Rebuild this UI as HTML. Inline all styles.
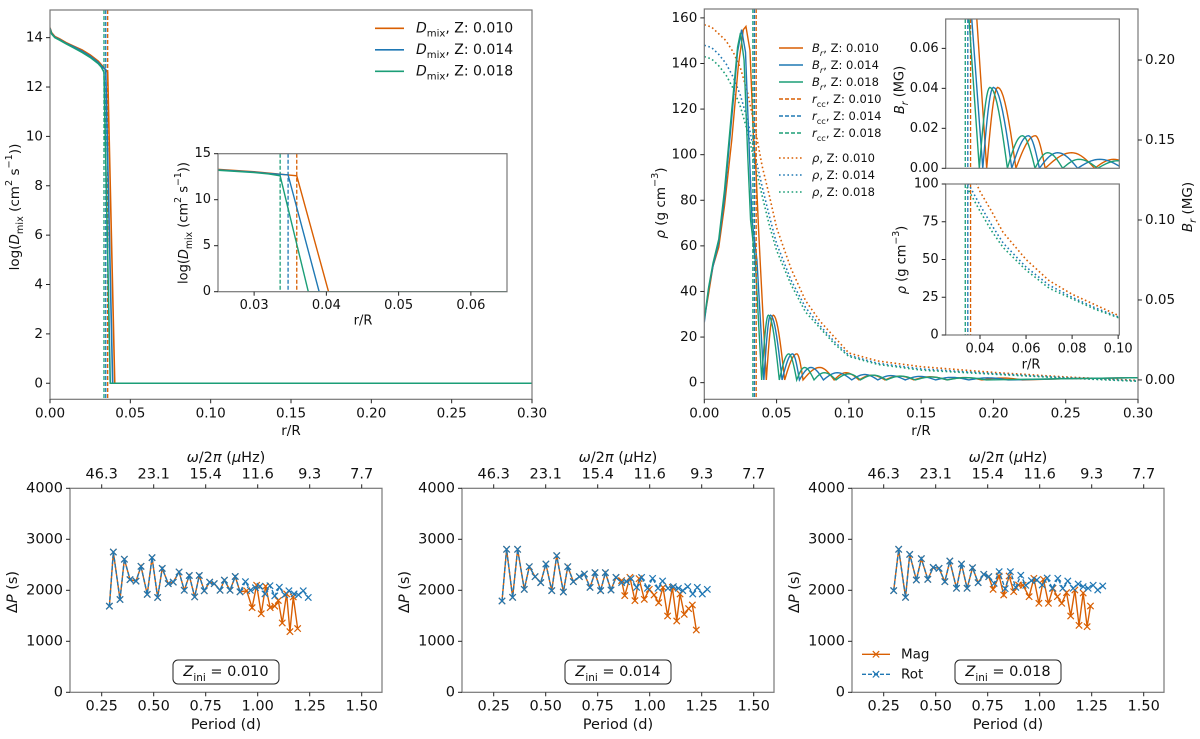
<!DOCTYPE html>
<html><head><meta charset="utf-8"><style>
html,body{margin:0;padding:0;background:#fff;}
svg{display:block;font-family:"DejaVu Sans","Liberation Sans",sans-serif;}
</style></head><body>
<svg id="fig" width="1200" height="739" viewBox="0 0 1200 739" xmlns="http://www.w3.org/2000/svg"></svg>
<script>
// ---------- DATA ----------
const zLabels = ['0.010','0.014','0.018'];
const colors = ['#d95f02','#1f78b4','#1b9e77'];
const rccValues = [0.0359, 0.0347, 0.0336];
// Dmix profiles
const dmixR_010 = [0,0.001,0.003,0.006,0.01,0.015,0.02,0.025,0.03,0.032,0.0359,0.0403,0.3];
const dmixV_010 = [14.4,14.2,14.05,13.95,13.8,13.65,13.5,13.3,13.05,12.9,12.6,0,0];
const dmixR_014 = [0,0.001,0.003,0.006,0.01,0.015,0.02,0.025,0.03,0.032,0.0347,0.039,0.3];
const dmixV_014 = [14.38,14.17,14.02,13.92,13.77,13.62,13.45,13.25,13.0,12.85,12.7,0,0];
const dmixR_018 = [0,0.001,0.003,0.006,0.01,0.015,0.02,0.025,0.03,0.032,0.0336,0.0375,0.3];
const dmixV_018 = [14.35,14.15,14.0,13.9,13.75,13.58,13.4,13.2,12.95,12.8,12.6,0,0];
// Br rise (MG)
const brRiseR_010 = [0,0.003,0.006,0.01,0.014,0.019,0.0235,0.027,0.0288,0.0316,0.0339,0.0358,0.0375,0.0386,0.0429];
const brRiseB_010 = [0.038,0.054,0.071,0.083,0.109,0.150,0.196,0.219,0.221,0.206,0.154,0.13,0.095,0.075,0];
const brRiseR_014 = [0,0.003,0.006,0.01,0.014,0.019,0.023,0.0258,0.0285,0.031,0.033,0.0364,0.0412];
const brRiseB_014 = [0.036,0.057,0.071,0.086,0.114,0.164,0.205,0.219,0.205,0.146,0.10,0.075,0];
const brRiseR_018 = [0,0.003,0.006,0.01,0.014,0.019,0.023,0.025,0.0275,0.030,0.032,0.0352,0.0397];
const brRiseB_018 = [0.038,0.058,0.073,0.088,0.119,0.169,0.208,0.217,0.20,0.141,0.10,0.075,0];
// Br oscillation bumps
const bumpZeros_010 = [0.0429,0.0556,0.0683,0.0898,0.107,0.125,0.145,0.168,0.192,0.22];
const bumpPeakR_010 = [0.0477,0.0640,0.0798,0.098,0.116,0.135,0.156,0.18,0.206];
const bumpPeakB_010 = [0.0405,0.0163,0.0078,0.0045,0.003,0.0024,0.002,0.0015,0.0012];
const bumpZeros_014 = [0.0412,0.0538,0.0658,0.0824,0.102,0.120,0.139,0.16,0.183,0.21];
const bumpPeakR_014 = [0.0458,0.0610,0.0737,0.092,0.111,0.129,0.149,0.171,0.196];
const bumpPeakB_014 = [0.0405,0.0163,0.0078,0.0045,0.0034,0.0027,0.0022,0.0016,0.0013];
const bumpZeros_018 = [0.0397,0.0519,0.0639,0.0759,0.0911,0.108,0.126,0.146,0.168,0.195];
const bumpPeakR_018 = [0.0443,0.0584,0.0694,0.0830,0.100,0.117,0.136,0.157,0.181];
const bumpPeakB_018 = [0.0405,0.0163,0.0078,0.0045,0.0038,0.003,0.0024,0.0018,0.0014];
const brTailR = [0.25, 0.3];
const brTailB = [0.0008, 0.0014];
// density
const rhoR = [0,0.005,0.01,0.015,0.02,0.025,0.03,0.035,0.04,0.045,0.05,0.06,0.07,0.08,0.09,0.1,0.12,0.15,0.2,0.25,0.3];
const rho_010 = [157,156,153,150,145,138,127,112,95,82,68,50,36,27,20,13,9.5,7,4.5,2.5,1];
const rho_014 = [148,147,144,140,134,126,115,100,86,73,61,45,33,25,18,12,8.5,6,4,2.2,0.8];
const rho_018 = [143,142,139,135,129,121,110,96,82,69,58,43,31,24,17,11.5,8,5.5,3.7,2,0.6];
// period spacings
const rotP_010 = [0.287,0.306,0.338,0.359,0.386,0.415,0.439,0.469,0.492,0.519,0.541,0.570,0.594,0.622,0.647,0.671,0.697,0.719,0.743,0.769,0.791,0.819,0.840,0.867,0.892,0.915,0.941,0.965,0.989,1.011,1.035,1.059,1.082,1.104,1.130,1.150,1.175,1.196,1.219,1.243];
const rotDP_010 = [1690,2750,1820,2610,2210,2180,2470,1920,2640,1860,2430,2130,2160,2360,2000,2290,1870,2290,1990,2160,2130,2000,2200,2000,2270,1970,2170,2000,2050,2080,1930,2090,1890,2060,1910,1990,1930,1910,1990,1860];
const magP_010 = [0.287,0.306,0.338,0.359,0.386,0.415,0.439,0.469,0.492,0.519,0.541,0.570,0.594,0.622,0.647,0.671,0.697,0.719,0.743,0.769,0.791,0.819,0.840,0.867,0.892,0.915,0.947,0.973,0.995,1.017,1.038,1.060,1.082,1.099,1.118,1.139,1.155,1.171,1.192];
const magDP_010 = [1690,2750,1820,2610,2210,2180,2470,1920,2640,1860,2430,2130,2160,2360,2000,2290,1870,2290,1990,2160,2130,2000,2200,2000,2270,1970,1990,1660,2100,1540,2080,1660,1690,1800,1360,1930,1190,1870,1250];
const rotP_014 = [0.290,0.312,0.341,0.365,0.397,0.421,0.449,0.476,0.501,0.529,0.553,0.585,0.606,0.633,0.662,0.686,0.713,0.737,0.764,0.787,0.814,0.838,0.865,0.889,0.910,0.937,0.961,0.989,1.014,1.040,1.062,1.088,1.114,1.138,1.159,1.183,1.207,1.229,1.253,1.277];
const rotDP_014 = [1790,2804,1862,2804,2019,2463,2267,2150,2516,1993,2679,1967,2463,2169,2267,2320,2058,2346,1993,2346,2006,2254,2150,2169,2228,2058,2254,2039,2235,2039,2182,2039,2071,2039,1993,2071,1927,2058,1927,2019];
const magP_014 = [0.290,0.312,0.341,0.365,0.397,0.421,0.449,0.476,0.501,0.529,0.553,0.585,0.606,0.633,0.662,0.686,0.713,0.737,0.764,0.787,0.814,0.838,0.865,0.880,0.905,0.929,0.949,0.974,0.998,1.021,1.043,1.064,1.086,1.109,1.130,1.146,1.166,1.187,1.205,1.224];
const magDP_014 = [1790,2804,1862,2804,2019,2463,2267,2150,2516,1993,2679,1967,2463,2169,2267,2320,2058,2346,1993,2346,2006,2254,2189,1895,2254,1797,2228,1823,2019,1908,1757,2058,1496,2058,1398,1927,1529,1640,1712,1222];
const rotP_018 = [0.298,0.322,0.355,0.375,0.407,0.431,0.462,0.488,0.516,0.544,0.568,0.600,0.624,0.651,0.677,0.704,0.731,0.755,0.781,0.805,0.834,0.859,0.885,0.909,0.933,0.960,0.986,1.012,1.036,1.061,1.087,1.111,1.135,1.161,1.185,1.209,1.233,1.257,1.279,1.303];
const rotDP_018 = [1993,2804,1862,2705,2202,2620,2215,2450,2430,2169,2574,2039,2516,2039,2443,2150,2313,2267,2137,2365,2032,2365,2058,2294,2098,2189,2202,2104,2241,2039,2235,2039,2182,2039,2124,2071,2039,2098,2006,2084];
const magP_018 = [0.298,0.322,0.355,0.375,0.407,0.431,0.462,0.488,0.516,0.544,0.568,0.600,0.624,0.651,0.677,0.704,0.731,0.755,0.776,0.805,0.827,0.853,0.875,0.898,0.920,0.949,0.972,0.996,1.018,1.042,1.064,1.085,1.106,1.129,1.149,1.169,1.189,1.209,1.228,1.244];
const magDP_018 = [1993,2804,1862,2705,2202,2620,2215,2450,2430,2169,2574,2039,2516,2039,2443,2150,2313,2267,2019,2280,1908,2280,1973,2104,2098,1875,2235,1745,2215,1745,2039,1875,1745,1954,1496,2006,1313,1947,1287,1692];
const periodTicks = [0.25,0.5,0.75,1.0,1.25,1.5];
const periodTickLabels = ['0.25','0.50','0.75','1.00','1.25','1.50'];
const freqTickLabels = ['46.3','23.1','15.4','11.6','9.3','7.7'];
const dpTicks = [0,1000,2000,3000,4000];
const rTicks = [0,0.05,0.1,0.15,0.2,0.25,0.3];
const rTickLabels = ['0.00','0.05','0.10','0.15','0.20','0.25','0.30'];
const dmixTicks = [0,2,4,6,8,10,12,14];
const insetATicks = [0.03,0.04,0.05,0.06];
const insetAYTicks = [0,5,10,15];
const rhoTicks = [0,20,40,60,80,100,120,140,160];
const brTicks = [0,0.05,0.1,0.15,0.2];
const brTickLabels = ['0.00','0.05','0.10','0.15','0.20'];
const insetBTicks = [0.04,0.06,0.08,0.1];
const insetBTickLabels = ['0.04','0.06','0.08','0.10'];
const insetBrTicks = [0,0.02,0.04,0.06];
const insetRhoTicks = [0,25,50,75,100];

// ---------- HELPERS ----------
const NS = 'http://www.w3.org/2000/svg';
const svg = document.getElementById('fig');
let clipN = 0;
function mk(tag, attrs, parent) {
  const e = document.createElementNS(NS, tag);
  for (const k in attrs) e.setAttribute(k, attrs[k]);
  (parent || svg).appendChild(e);
  return e;
}
function scale(d0, d1, p0, p1) { return v => p0 + (v - d0) / (d1 - d0) * (p1 - p0); }
function axes(x, y, w, h, xlim, ylim, name) {
  const g = mk('g', {});
  
  
  const id = 'clip' + (clipN++);
  const cp = mk('clipPath', {id: id}, g);
  mk('rect', {x: x, y: y, width: w, height: h}, cp);
  const bg = mk('rect', {x: x, y: y, width: w, height: h, fill: '#fff'}, g);
  
  
  const plot = mk('g', {'clip-path': 'url(#' + id + ')'}, g);
  return {g, plot, x, y, w, h, sx: scale(xlim[0], xlim[1], x, x + w), sy: scale(ylim[0], ylim[1], y + h, y)};
}
function frame(ax, name) {
  const f = mk('rect', {x: ax.x, y: ax.y, width: ax.w, height: ax.h, fill: 'none', stroke: '#777', 'stroke-width': 1.2}, ax.g);
  
  
}
function text(parent, x, y, html, size, anchor, rot) {
  const t = mk('text', {x: x, y: y, 'font-size': size, 'text-anchor': anchor || 'middle', 'dominant-baseline': 'central', fill: '#111'}, parent);
  if (rot) t.setAttribute('transform', 'rotate(' + rot + ' ' + x + ' ' + y + ')');
  t.innerHTML = html;
  return t;
}
function xTicks(ax, vals, labels, size, side, name) {
  vals.forEach((v, i) => {
    const px = ax.sx(v);
    const yb = side === 'top' ? ax.y : ax.y + ax.h;
    const d = side === 'top' ? -4 : 4;
    const tk = mk('line', {x1: px, x2: px, y1: yb, y2: yb + d, stroke: '#222', 'stroke-width': 1}, ax.g);
    
    
    const lb = text(ax.g, px, yb + (side === 'top' ? -14 : 14), labels[i], size, 'middle');
    
    
  });
}
function yTicks(ax, vals, labels, size, side, sy, name) {
  const f = sy || ax.sy;
  vals.forEach((v, i) => {
    const py = f(v);
    const xb = side === 'right' ? ax.x + ax.w : ax.x;
    const d = side === 'right' ? 4 : -4;
    const tk = mk('line', {x1: xb, x2: xb + d, y1: py, y2: py, stroke: '#222', 'stroke-width': 1}, ax.g);
    
    
    const lb = text(ax.g, xb + (side === 'right' ? 7 : -7), py, labels[i], size, side === 'right' ? 'start' : 'end');
    
    
  });
}
function pathD(xs, ys, sx, sy) {
  return xs.map((v, i) => (i ? 'L' : 'M') + sx(v).toFixed(2) + ',' + sy(ys[i]).toFixed(2)).join('');
}
function brPath(riseR, riseB, zeros, peakR, peakB, sx, sy) {
  const xs = riseR.slice(), ys = riseB.slice();
  for (let i = 0; i < peakR.length; i++) {
    const z0 = zeros[i], z1 = zeros[i + 1], pr = peakR[i], pb = peakB[i];
    for (let k = 1; k <= 10; k++) { const t = k / 10; xs.push(z0 + (pr - z0) * t); ys.push(pb * Math.sin(Math.PI / 2 * t)); }
    for (let k = 1; k <= 10; k++) { const t = k / 10; xs.push(pr + (z1 - pr) * t); ys.push(pb * Math.cos(Math.PI / 2 * t)); }
  }
  brTailR.forEach((v, i) => { xs.push(v); ys.push(brTailB[i]); });
  return pathD(xs, ys, sx, sy);
}
const sub = s => '<tspan baseline-shift="sub" font-size="72%">' + s + '</tspan>';
const sup = s => '<tspan baseline-shift="super" font-size="72%">' + s + '</tspan>';
const it = s => '<tspan font-style="italic">' + s + '</tspan>';

// ---------- PANEL A: Dmix ----------
const dmixR = [dmixR_010, dmixR_014, dmixR_018];
const dmixV = [dmixV_010, dmixV_014, dmixV_018];
const A = axes(50, 10, 482, 389.3, [0, 0.3], [-0.65, 15.12], 'dmix-panel');
[A].forEach(ax => {
  [0, 1, 2].forEach(i => {
    const l = mk('line', {x1: ax.sx(rccValues[i]), x2: ax.sx(rccValues[i]), y1: ax.y, y2: ax.y + ax.h, stroke: colors[i], 'stroke-width': 1.3, 'stroke-dasharray': '4,2'}, ax.plot);
    
    
  });
  [0, 1, 2].forEach(i => {
    const p = mk('path', {d: pathD(dmixR[i], dmixV[i], ax.sx, ax.sy), fill: 'none', stroke: colors[i], 'stroke-width': 1.6}, ax.plot);
    
    
  });
});
frame(A, 'dmix-frame');
xTicks(A, rTicks, rTickLabels, 13.5, 'bottom', 'dmix-x');
yTicks(A, dmixTicks, dmixTicks.map(String), 13.5, 'left', null, 'dmix-y');
let t = text(svg, 291, 431, 'r/R', 13.5);


t = text(svg, 15, 207, 'log(' + it('D') + sub('mix') + ' (cm' + sup('2') + ' s' + sup('−1') + '))', 13.5, 'middle', -90);


// legend A
[0, 1, 2].forEach(i => {
  const y = 28.3 + i * 21.5;
  const l = mk('line', {x1: 375, x2: 404, y1: y, y2: y, stroke: colors[i], 'stroke-width': 1.6});
  
  
  const lt = text(svg, 416, y, it('D') + sub('mix') + ', Z: ' + zLabels[i], 14, 'start');
  
  
});
// inset A
const AI = axes(218, 153.7, 289, 138, [0.025, 0.065], [0, 15], 'dmix-inset');
[0, 1, 2].forEach(i => {
  const l = mk('line', {x1: AI.sx(rccValues[i]), x2: AI.sx(rccValues[i]), y1: AI.y, y2: AI.y + AI.h, stroke: colors[i], 'stroke-width': 1.3, 'stroke-dasharray': '4,2'}, AI.plot);
  
  
});
[0, 1, 2].forEach(i => {
  const p = mk('path', {d: pathD(dmixR[i], dmixV[i], AI.sx, AI.sy), fill: 'none', stroke: colors[i], 'stroke-width': 1.4}, AI.plot);
  
  
});
frame(AI, 'dmix-inset-frame');
xTicks(AI, insetATicks, insetATicks.map(v => v.toFixed(2)), 13, 'bottom', 'dmix-inset-x');
yTicks(AI, insetAYTicks, insetAYTicks.map(String), 13, 'left', null, 'dmix-inset-y');
t = text(svg, 363, 321, 'r/R', 13);


t = text(svg, 184, 223, 'log(' + it('D') + sub('mix') + ' (cm' + sup('2') + ' s' + sup('−1') + '))', 13, 'middle', -90);



// ---------- PANEL B: Br and rho ----------
const brRiseR = [brRiseR_010, brRiseR_014, brRiseR_018];
const brRiseB = [brRiseB_010, brRiseB_014, brRiseB_018];
const bumpZeros = [bumpZeros_010, bumpZeros_014, bumpZeros_018];
const bumpPeakR = [bumpPeakR_010, bumpPeakR_014, bumpPeakR_018];
const bumpPeakB = [bumpPeakB_010, bumpPeakB_014, bumpPeakB_018];
const rhos = [rho_010, rho_014, rho_018];
const B = axes(704.3, 9, 433.7, 390.3, [0, 0.3], [-7.3, 163.9], 'br-rho-panel');
const syBr = scale(-0.0121, 0.2319, B.y + B.h, B.y);
[0, 1, 2].forEach(i => {
  const p = mk('path', {d: pathD(rhoR, rhos[i], B.sx, B.sy), fill: 'none', stroke: colors[i], 'stroke-width': 1.6, 'stroke-dasharray': '1.6,2.6'}, B.plot);
  
  
});
[0, 1, 2].forEach(i => {
  const p = mk('path', {d: brPath(brRiseR[i], brRiseB[i], bumpZeros[i], bumpPeakR[i], bumpPeakB[i], B.sx, syBr), fill: 'none', stroke: colors[i], 'stroke-width': 1.4}, B.plot);
  
  
});
[0, 1, 2].forEach(i => {
  const l = mk('line', {x1: B.sx(rccValues[i]), x2: B.sx(rccValues[i]), y1: B.y, y2: B.y + B.h, stroke: colors[i], 'stroke-width': 1.3, 'stroke-dasharray': '4,2'}, B.plot);
  
  
});
frame(B, 'br-rho-frame');
xTicks(B, rTicks, rTickLabels, 13.5, 'bottom', 'br-x');
yTicks(B, rhoTicks, rhoTicks.map(String), 13.5, 'left', null, 'rho-y');
yTicks(B, brTicks, brTickLabels, 13.5, 'right', syBr, 'br-y');
t = text(svg, 921, 431, 'r/R', 13.5);


t = text(svg, 661, 203, it('ρ') + ' (g cm' + sup('−3') + ')', 13.5, 'middle', -90);


t = text(svg, 1188, 207, it('B') + sub(it('r')) + ' (MG)', 13.5, 'middle', -90);


// legend B
const legRows = [48, 65, 82, 99, 116, 133, 158, 175, 192];
[0, 1, 2].forEach(i => {
  let l = mk('line', {x1: 779, x2: 803, y1: legRows[i], y2: legRows[i], stroke: colors[i], 'stroke-width': 1.6});
  
  
  let lt = text(svg, 812, legRows[i], it('B') + sub(it('r')) + ', Z: ' + zLabels[i], 11.5, 'start');
  
  
  l = mk('line', {x1: 779, x2: 803, y1: legRows[i + 3], y2: legRows[i + 3], stroke: colors[i], 'stroke-width': 1.6, 'stroke-dasharray': '4,2'});
  
  
  lt = text(svg, 812, legRows[i + 3], it('r') + sub('cc') + ', Z: ' + zLabels[i], 11.5, 'start');
  
  
  l = mk('line', {x1: 779, x2: 803, y1: legRows[i + 6], y2: legRows[i + 6], stroke: colors[i], 'stroke-width': 1.6, 'stroke-dasharray': '1.6,2.6'});
  
  
  lt = text(svg, 812, legRows[i + 6], it('ρ') + ', Z: ' + zLabels[i], 11.5, 'start');
  
  
});
// inset B1 (Br)
const B1 = axes(945.7, 19, 173.6, 149.3, [0.0251, 0.1005], [0, 0.0747], 'br-inset');
[0, 1, 2].forEach(i => {
  const p = mk('path', {d: brPath(brRiseR[i], brRiseB[i], bumpZeros[i], bumpPeakR[i], bumpPeakB[i], B1.sx, B1.sy), fill: 'none', stroke: colors[i], 'stroke-width': 1.4}, B1.plot);
  
  
  const l = mk('line', {x1: B1.sx(rccValues[i]), x2: B1.sx(rccValues[i]), y1: B1.y, y2: B1.y + B1.h, stroke: colors[i], 'stroke-width': 1.3, 'stroke-dasharray': '4,2'}, B1.plot);
  
  
});
frame(B1, 'br-inset-frame');
yTicks(B1, insetBrTicks, insetBrTicks.map(v => v.toFixed(2)), 13, 'left', null, 'br-inset-y');
t = text(svg, 900, 90, it('B') + sub(it('r')) + ' (MG)', 13, 'middle', -90);


// inset B2 (rho)
const B2 = axes(945.7, 184, 173.6, 151, [0.0251, 0.1005], [0, 100], 'rho-inset');
[0, 1, 2].forEach(i => {
  const p = mk('path', {d: pathD(rhoR, rhos[i], B2.sx, B2.sy), fill: 'none', stroke: colors[i], 'stroke-width': 1.6, 'stroke-dasharray': '1.6,2.6'}, B2.plot);
  
  
  const l = mk('line', {x1: B2.sx(rccValues[i]), x2: B2.sx(rccValues[i]), y1: B2.y, y2: B2.y + B2.h, stroke: colors[i], 'stroke-width': 1.3, 'stroke-dasharray': '4,2'}, B2.plot);
  
  
});
frame(B2, 'rho-inset-frame');
xTicks(B2, insetBTicks, insetBTickLabels, 13, 'bottom', 'rho-inset-x');
yTicks(B2, insetRhoTicks, insetRhoTicks.map(String), 13, 'left', null, 'rho-inset-y');
t = text(svg, 1031, 365, 'r/R', 13);


t = text(svg, 902, 260, it('ρ') + ' (g cm' + sup('−3') + ')', 13, 'middle', -90);



// ---------- BOTTOM PANELS ----------
const rotP = [rotP_010, rotP_014, rotP_018];
const rotDP = [rotDP_010, rotDP_014, rotDP_018];
const magP = [magP_010, magP_014, magP_018];
const magDP = [magDP_010, magDP_014, magDP_018];
const panelLefts = [70, 462, 852];
function markers(g, xs, ys, sx, sy, color, name) {
  xs.forEach((v, i) => {
    const cx = sx(v), cy = sy(ys[i]), s = 3.2;
    const m = mk('path', {d: 'M' + (cx - s) + ',' + (cy - s) + 'L' + (cx + s) + ',' + (cy + s) + 'M' + (cx - s) + ',' + (cy + s) + 'L' + (cx + s) + ',' + (cy - s), stroke: color, 'stroke-width': 1.2, fill: 'none'}, g);
    
    
  });
}
[0, 1, 2].forEach(k => {
  const L = panelLefts[k];
  const P = axes(L, 488.3, 312, 204, [0.0976, 1.5976], [0, 4000], 'period-spacing-panel-' + zLabels[k]);
  const mp = mk('path', {d: pathD(magP[k], magDP[k], P.sx, P.sy), fill: 'none', stroke: colors[0], 'stroke-width': 1.4}, P.plot);
  
  
  markers(P.plot, magP[k], magDP[k], P.sx, P.sy, colors[0], 'mag-marker');
  const rp = mk('path', {d: pathD(rotP[k], rotDP[k], P.sx, P.sy), fill: 'none', stroke: '#1f77b4', 'stroke-width': 1.4, 'stroke-dasharray': '4,2'}, P.plot);
  
  
  markers(P.plot, rotP[k], rotDP[k], P.sx, P.sy, '#1f77b4', 'rot-marker');
  frame(P, 'period-frame-' + zLabels[k]);
  xTicks(P, periodTicks, periodTickLabels, 14.5, 'bottom', 'period-x');
  xTicks(P, periodTicks, freqTickLabels, 14.5, 'top', 'freq-x');
  yTicks(P, dpTicks, dpTicks.map(String), 14.5, 'left', null, 'dp-y');
  let tt = text(svg, L + 156, 725, 'Period (d)', 14.5);
  
  
  tt = text(svg, L + 156, 458, it('ω') + '/2' + it('π') + ' (' + it('μ') + 'Hz)', 14.5);
  
  
  tt = text(svg, L - 57, 592, 'Δ' + it('P') + ' (s)', 14.5, 'middle', -90);
  
  
  const bx = mk('rect', {x: L + 103, y: 660, width: 106, height: 24, rx: 5, fill: '#fff', stroke: '#222', 'stroke-width': 1});
  
  
  tt = text(svg, L + 156, 672, it('Z') + sub('ini') + ' = ' + zLabels[k], 14.5);
  
  
});
// legend bottom
const lg = [{n: 'Mag', c: colors[0], d: 'none', y: 654.3}, {n: 'Rot', c: '#1f77b4', d: '4,2', y: 674.3}];
lg.forEach(o => {
  const l = mk('line', {x1: 862, x2: 890, y1: o.y, y2: o.y, stroke: o.c, 'stroke-width': 1.4, 'stroke-dasharray': o.d});
  
  
  markers(svg, [876], [o.y], v => v, v => v, o.c, 'legend-marker');
  const lt = text(svg, 901, o.y, o.n, 13.5, 'start');
  
  
});
</script>
</body></html>
